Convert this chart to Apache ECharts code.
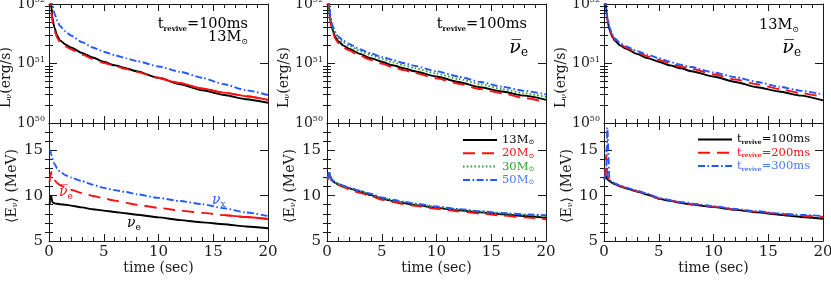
<!DOCTYPE html>
<html><head><meta charset="utf-8">
<script src="https://cdn.jsdelivr.net/npm/echarts@6.0.0/dist/echarts.min.js"></script>
<style>html,body{margin:0;padding:0;background:#fff}#c{width:831px;height:282px}</style>
</head><body><div id="c"></div><script>
// ---------------- data ----------------
const time = [0.05,0.1,0.2,0.3,0.5,0.75,1,1.5,2,3,4,5,6,7,8,10,12,14,16,18,20];

// panel 1: 13 Msun, t_revive = 100 ms (luminosity erg/s)
const lumNuE13   = [3.98e52,2.0e52,1.0e52,6.03e51,3.98e51,2.95e51,2.45e51,2.09e51,1.86e51,1.51e51,1.26e51,1.07e51,9.33e50,8.32e50,7.41e50,5.75e50,4.47e50,3.55e50,2.95e50,2.51e50,2.19e50];
const lumNuBar13 = [3.16e52,1.58e52,7.94e51,5.25e51,3.55e51,2.69e51,2.29e51,1.95e51,1.74e51,1.41e51,1.20e51,1.02e51,9.12e50,8.13e50,7.24e50,5.75e50,4.68e50,3.80e50,3.24e50,2.82e50,2.45e50];
const lumNuX13   = [6.31e52,3.16e52,1.58e52,1.0e52,6.92e51,5.25e51,4.27e51,3.47e51,2.95e51,2.29e51,1.86e51,1.58e51,1.38e51,1.23e51,1.10e51,8.91e50,7.24e50,5.75e50,4.47e50,3.55e50,2.95e50];
// panel 1: mean energies (MeV)
const eNuE13   = [9.0,9.5,10.0,9.3,9.15,9.1,9.05,9.0,8.9,8.7,8.5,8.35,8.2,8.05,7.9,7.6,7.3,7.05,6.85,6.6,6.4];
const eNuBar13 = [11.5,12.0,12.6,12.0,11.7,11.4,11.15,10.9,10.65,10.3,9.95,9.7,9.45,9.2,9.0,8.65,8.35,8.1,7.85,7.65,7.42];
const eNuX13   = [15.1,15.0,14.6,14.1,13.5,13.0,12.65,12.25,12.0,11.6,11.2,10.85,10.6,10.4,10.15,9.75,9.4,9.05,8.6,8.15,7.75];

// panel 2: anti-nu_e, t_revive = 100 ms, progenitor masses
const massNames = ['13M','20M','30M','50M'];
const lumM13 = [3.16e52,1.58e52,7.94e51,5.50e51,3.72e51,2.82e51,2.40e51,2.0e51,1.78e51,1.45e51,1.23e51,1.07e51,9.33e50,8.32e50,7.41e50,6.03e50,4.90e50,3.98e50,3.39e50,2.88e50,2.45e50];
const lumM20 = [2.82e52,1.41e52,7.08e51,5.01e51,3.47e51,2.63e51,2.24e51,1.86e51,1.66e51,1.35e51,1.15e51,1.0e51,8.71e50,7.76e50,6.92e50,5.62e50,4.57e50,3.72e50,3.16e50,2.63e50,2.24e50];
const lumM30 = [3.55e52,1.78e52,8.91e51,6.03e51,4.07e51,3.16e51,2.69e51,2.24e51,2.0e51,1.62e51,1.38e51,1.20e51,1.05e51,9.33e50,8.32e50,6.76e50,5.50e50,4.47e50,3.72e50,3.16e50,2.75e50];
const lumM50 = [3.98e52,2.0e52,9.55e51,6.46e51,4.37e51,3.39e51,2.88e51,2.40e51,2.14e51,1.74e51,1.48e51,1.29e51,1.15e51,1.02e51,9.12e50,7.41e50,6.03e50,4.90e50,4.07e50,3.47e50,3.02e50];
const eM13 = [11.8,12.0,12.5,12.0,11.6,11.4,11.25,11.0,10.8,10.45,10.05,9.65,9.4,9.18,8.98,8.65,8.38,8.15,7.95,7.75,7.55];
const eM20 = [11.7,11.9,12.3,11.9,11.55,11.35,11.2,10.95,10.7,10.3,9.95,9.55,9.3,9.08,8.88,8.55,8.27,8.03,7.8,7.6,7.38];
const eM30 = [11.9,12.1,12.6,12.1,11.65,11.45,11.3,11.05,10.85,10.5,10.15,9.75,9.5,9.28,9.08,8.75,8.47,8.23,8.03,7.88,7.75];
const eM50 = [11.8,12.1,12.7,12.1,11.7,11.5,11.35,11.1,10.9,10.55,10.2,9.8,9.55,9.33,9.13,8.8,8.52,8.28,8.08,7.93,7.85];

// panel 3: 13 Msun anti-nu_e, revival times
const reviveNames = ['100ms','200ms','300ms'];
const lumT100 = [3.16e52,1.58e52,7.94e51,5.50e51,3.72e51,2.82e51,2.40e51,2.0e51,1.78e51,1.45e51,1.23e51,1.07e51,9.33e50,8.32e50,7.41e50,6.03e50,4.90e50,3.98e50,3.39e50,2.88e50,2.40e50];
const lumT200 = [3.16e52,1.58e52,8.32e51,5.75e51,3.89e51,2.95e51,2.51e51,2.09e51,1.86e51,1.55e51,1.32e51,1.15e51,1.0e51,8.91e50,8.13e50,6.61e50,5.37e50,4.47e50,3.72e50,3.16e50,2.75e50];
const lumT300 = [3.55e52,1.78e52,8.91e51,6.03e51,4.07e51,3.09e51,2.63e51,2.19e51,1.95e51,1.62e51,1.41e51,1.23e51,1.07e51,9.55e50,8.71e50,7.08e50,5.89e50,4.90e50,4.07e50,3.47e50,3.02e50];
const eT100 = [11.8,12.4,12.0,11.8,11.6,11.4,11.25,11.0,10.8,10.45,10.1,9.65,9.42,9.2,9.02,8.73,8.43,8.15,7.9,7.65,7.45];
const eT200 = [11.8,12.2,14.5,12.2,11.65,11.45,11.3,11.05,10.85,10.5,10.15,9.7,9.47,9.25,9.07,8.78,8.48,8.22,7.98,7.8,7.65];
const eT300 = [11.8,12.2,12.8,17.5,11.7,11.5,11.35,11.1,10.9,10.55,10.2,9.75,9.52,9.3,9.12,8.83,8.53,8.28,8.03,7.88,7.75];

// ticks
const xTicks = [0,5,10,15,20];
const lumTicks = [1e50,1e51,1e52];
const lumTickExp = [50,51,52];
const lumMinor = [2e50,3e50,4e50,5e50,6e50,7e50,8e50,9e50,2e51,3e51,4e51,5e51,6e51,7e51,8e51,9e51];
const eTicks = [5,10,15];
const eMinor = [6,7,8,9,11,12,13,14,16,17];

// ---------------- style ----------------
const FONT = 'DejaVu Serif';
const INK = '#1a1a1a';
const BLACK = '#000000', RED = '#ff1010', GREEN = '#2ea02e', BLUE = '#2458ff';
const BLUE_T = '#4a78ff';
const DASH = [12,7], DOT = [1.6,2.2], DASHDOT = [7,2.5,1.6,2.5];
const LEFTS = [49, 327, 604];
const W = 219;

const grids = [];
LEFTS.forEach(l => {
  grids.push({left:l, top:4, width:W, height:119, outerBoundsMode:'none', containLabel:false});
  grids.push({left:l, top:123, width:W, height:118, outerBoundsMode:'none', containLabel:false});
});

const lineAx = {color: INK, width: 1};
const xAxes = [];
grids.forEach((g, gi) => {
  const isBottom = gi % 2 === 1;
  ['bottom','top'].forEach(pos => {
    const showLab = isBottom && pos === 'bottom';
    xAxes.push({
      type:'value', gridIndex: gi, position: pos, min: xTicks[0], max: xTicks[xTicks.length-1],
      interval: xTicks[1]-xTicks[0],
      axisLine:{show:true, onZero:false, lineStyle: lineAx},
      axisTick:{show:true, inside:true, length:7, lineStyle: lineAx},
      minorTick:{show:true, splitNumber:5, length:4, lineStyle: lineAx},
      splitLine:{show:false}, minorSplitLine:{show:false},
      axisLabel:{show: showLab, customValues: xTicks, margin:4, fontFamily:FONT, fontSize:15, color:INK},
      name: showLab ? 'time (sec)' : '', nameLocation:'middle', nameGap:19,
      nameTextStyle:{fontFamily:FONT, fontSize:14, color:INK}
    });
  });
});

// log-axis tick positions nudged inside the extent so the end ticks are kept
const lumTickPos = lumTicks.map((v, i) => i === lumTicks.length - 1 ? v * 0.99999 : v);
const supRich = {sup:{fontFamily:FONT, fontSize:8, verticalAlign:'top', lineHeight:8, color:INK}};
const yAxes = [];
grids.forEach((g, gi) => {
  const isTop = gi % 2 === 0;
  ['left','right'].forEach(pos => {
    const main = pos === 'left';
    if (isTop) {
      const base = {type:'log', logBase:10, gridIndex:gi, position:pos, min:lumTicks[0], max:lumTicks[2],
        splitLine:{show:false}, minorTick:{show:false}};
      yAxes.push(Object.assign({}, base, {
        axisLine:{show:true, onZero:false, lineStyle: lineAx},
        axisTick:{show:true, inside:true, length:8, customValues: lumTickPos, lineStyle: lineAx},
        axisLabel:{show: main, customValues: lumTickPos, margin:4, showMaxLabel:true, showMinLabel:true,
          formatter: (v) => {
            let best = 0;
            lumTicks.forEach((t, i) => { if (Math.abs(Math.log10(t) - Math.log10(v)) < Math.abs(Math.log10(lumTicks[best]) - Math.log10(v))) best = i; });
            return '10{sup|' + lumTickExp[best] + '}';
          },
          fontFamily:FONT, fontSize:14, lineHeight:16, color:INK, rich: supRich},
        name: main ? 'L{sub|ν}(erg/s)' : '', nameLocation:'middle', nameRotate:90, nameGap:30,
        nameTextStyle:{fontFamily:FONT, fontSize:14, color:INK, padding:[0,28,0,0],
          rich:{sub:{fontFamily:FONT, fontSize:8, verticalAlign:'bottom', lineHeight:9, color:INK}}}
      }));
      yAxes.push(Object.assign({}, base, {
        axisLine:{show:false}, axisLabel:{show:false},
        axisTick:{show:true, inside:true, length:4, customValues: lumMinor, lineStyle: lineAx}
      }));
    } else {
      const base = {type:'value', gridIndex:gi, position:pos, min:5, max:18, interval:1,
        splitLine:{show:false}, minorTick:{show:false}};
      yAxes.push(Object.assign({}, base, {
        axisLine:{show:true, onZero:false, lineStyle: lineAx},
        axisTick:{show:true, inside:true, length:8, customValues: eTicks, lineStyle: lineAx},
        axisLabel:{show: main, customValues: eTicks, margin:6, fontFamily:FONT, fontSize:15, color:INK},
        name: main ? '⟨E{sub|ν}⟩ (MeV)' : '', nameLocation:'middle', nameRotate:90, nameGap:30,
        nameTextStyle:{fontFamily:FONT, fontSize:14, color:INK, padding:[0,8,0,0],
          rich:{sub:{fontFamily:FONT, fontSize:8, verticalAlign:'bottom', lineHeight:9, color:INK}}}
      }));
      yAxes.push(Object.assign({}, base, {
        axisLine:{show:false}, axisLabel:{show:false},
        axisTick:{show:true, inside:true, length:4, customValues: eMinor, lineStyle: lineAx}
      }));
    }
  });
});

function mk(name, g, vals, color, dash, from) {
  const pts = [];
  time.forEach((t, i) => { if (from === undefined || t >= from) pts.push([t, vals[i]]); });
  return {type:'line', name, xAxisIndex: 2*g, yAxisIndex: 4*g, data: pts,
    symbol:'none', showSymbol:false, smooth:0.2, smoothMonotone:'x', clip:true,
    lineStyle:{color, width:1.9, type: dash}, itemStyle:{color},
    animation:false, silent:true, emphasis:{disabled:true}};
}

const series = [
  // panel 1
  mk('nue', 0, lumNuE13, BLACK, 'solid'),
  mk('nubar', 0, lumNuBar13, RED, DASH),
  mk('nubar_t', 0, lumNuBar13, RED, 'solid', 10),
  mk('nux', 0, lumNuX13, BLUE, DASHDOT),
  mk('nue', 1, eNuE13, BLACK, 'solid'),
  mk('nubar', 1, eNuBar13, RED, DASH),
  mk('nubar_t', 1, eNuBar13, RED, 'solid', 16),
  mk('nux', 1, eNuX13, BLUE, DASHDOT),
  // panel 2
  mk(massNames[0], 2, lumM13, BLACK, 'solid'),
  mk(massNames[1], 2, lumM20, RED, DASH),
  mk(massNames[2], 2, lumM30, GREEN, DOT),
  mk(massNames[3], 2, lumM50, BLUE, DASHDOT),
  mk(massNames[0], 3, eM13, BLACK, 'solid'),
  mk(massNames[1], 3, eM20, RED, DASH),
  mk(massNames[2], 3, eM30, GREEN, DOT),
  mk(massNames[3], 3, eM50, BLUE, DASHDOT),
  // panel 3
  mk(reviveNames[0], 4, lumT100, BLACK, 'solid'),
  mk(reviveNames[1], 4, lumT200, RED, DASH),
  mk(reviveNames[2], 4, lumT300, BLUE, DASHDOT),
  mk(reviveNames[0], 5, eT100, BLACK, 'solid'),
  mk(reviveNames[1], 5, eT200, RED, DASH),
  mk(reviveNames[2], 5, eT300, BLUE, DASHDOT)
];

const legRich = {
  v:{fontFamily:FONT, fontSize:11.5, lineHeight:12},
  s:{fontFamily:FONT, fontSize:7, verticalAlign:'bottom', lineHeight:7},
  r:{fontFamily:FONT, fontSize:6, fontWeight:'bold', verticalAlign:'bottom', lineHeight:7}
};
const legBase = {orient:'vertical', itemWidth:34, itemHeight:11, itemGap:1.3, padding:0,
  selectedMode:false, itemStyle:{opacity:0}, textStyle:{fontFamily:FONT, fontSize:11.5, lineHeight:12, rich:legRich}};
const legend = [
  Object.assign({}, legBase, {left:462, top:134,
    data: massNames.map((n, i) => ({name:n, textStyle:{color:[BLACK, RED, GREEN, BLUE_T][i]}})),
    formatter: n => '{v|' + n + '}{s|⊙}'}),
  Object.assign({}, legBase, {left:697, top:133.5,
    data: reviveNames.map((n, i) => ({name:n, textStyle:{color:[BLACK, RED, BLUE_T][i]}})),
    formatter: n => '{v|t}{r|revive}{v|=' + n + '}'})
];

const annRich = (c) => ({
  n:{fontFamily:FONT, fontSize:14.5, lineHeight:18, fill:c, color:c},
  r:{fontFamily:FONT, fontSize:7, fontWeight:'bold', verticalAlign:'bottom', lineHeight:8, fill:c, color:c},
  s:{fontFamily:FONT, fontSize:8, verticalAlign:'bottom', lineHeight:9, fill:c, color:c},
  g:{fontFamily:FONT, fontSize:19, fontStyle:'italic', lineHeight:22, fill:c, color:c},
  gs:{fontFamily:FONT, fontSize:14, fontStyle:'italic', lineHeight:18, fill:c, color:c},
  e:{fontFamily:FONT, fontSize:12, verticalAlign:'bottom', lineHeight:12, fill:c, color:c},
  es:{fontFamily:FONT, fontSize:9, verticalAlign:'bottom', lineHeight:10, fill:c, color:c}
});
function txt(x, y, text, color, align) {
  return {type:'text', x, y, silent:true, z:100,
    style:{text, fill:color, align: align||'left', verticalAlign:'middle', textAlign: align||'left', textVerticalAlign:'middle', rich: annRich(color)}};
}
const TREV = '{n|t}{r|revive}{n|=100ms}';
const SUN = '{n|13M}{s|⊙}';
const NUBAR = '{g|ν\u0305}{e|e}';
const graphic = [
  txt(248, 24, TREV, BLACK, 'right'),
  txt(248, 37, SUN, BLACK, 'right'),
  txt(527, 24, TREV, BLACK, 'right'),
  txt(528, 48, NUBAR, BLACK, 'right'),
  txt(799, 25, SUN, BLACK, 'right'),
  txt(801, 48, NUBAR, BLACK, 'right'),
  txt(59, 192, '{gs|ν\u0305}{es|e}', RED, 'left'),
  txt(212, 200, '{gs|ν}{es|x}', BLUE, 'left'),
  txt(127, 223, '{gs|ν}{es|e}', BLACK, 'left')
];

const chart = echarts.init(document.getElementById('c'), null, {renderer:'canvas'});
chart.setOption({
  animation:false, backgroundColor:'#ffffff',
  grid: grids, xAxis: xAxes, yAxis: yAxes, series, legend, graphic,
  tooltip:{show:false}
});
</script></body></html>
